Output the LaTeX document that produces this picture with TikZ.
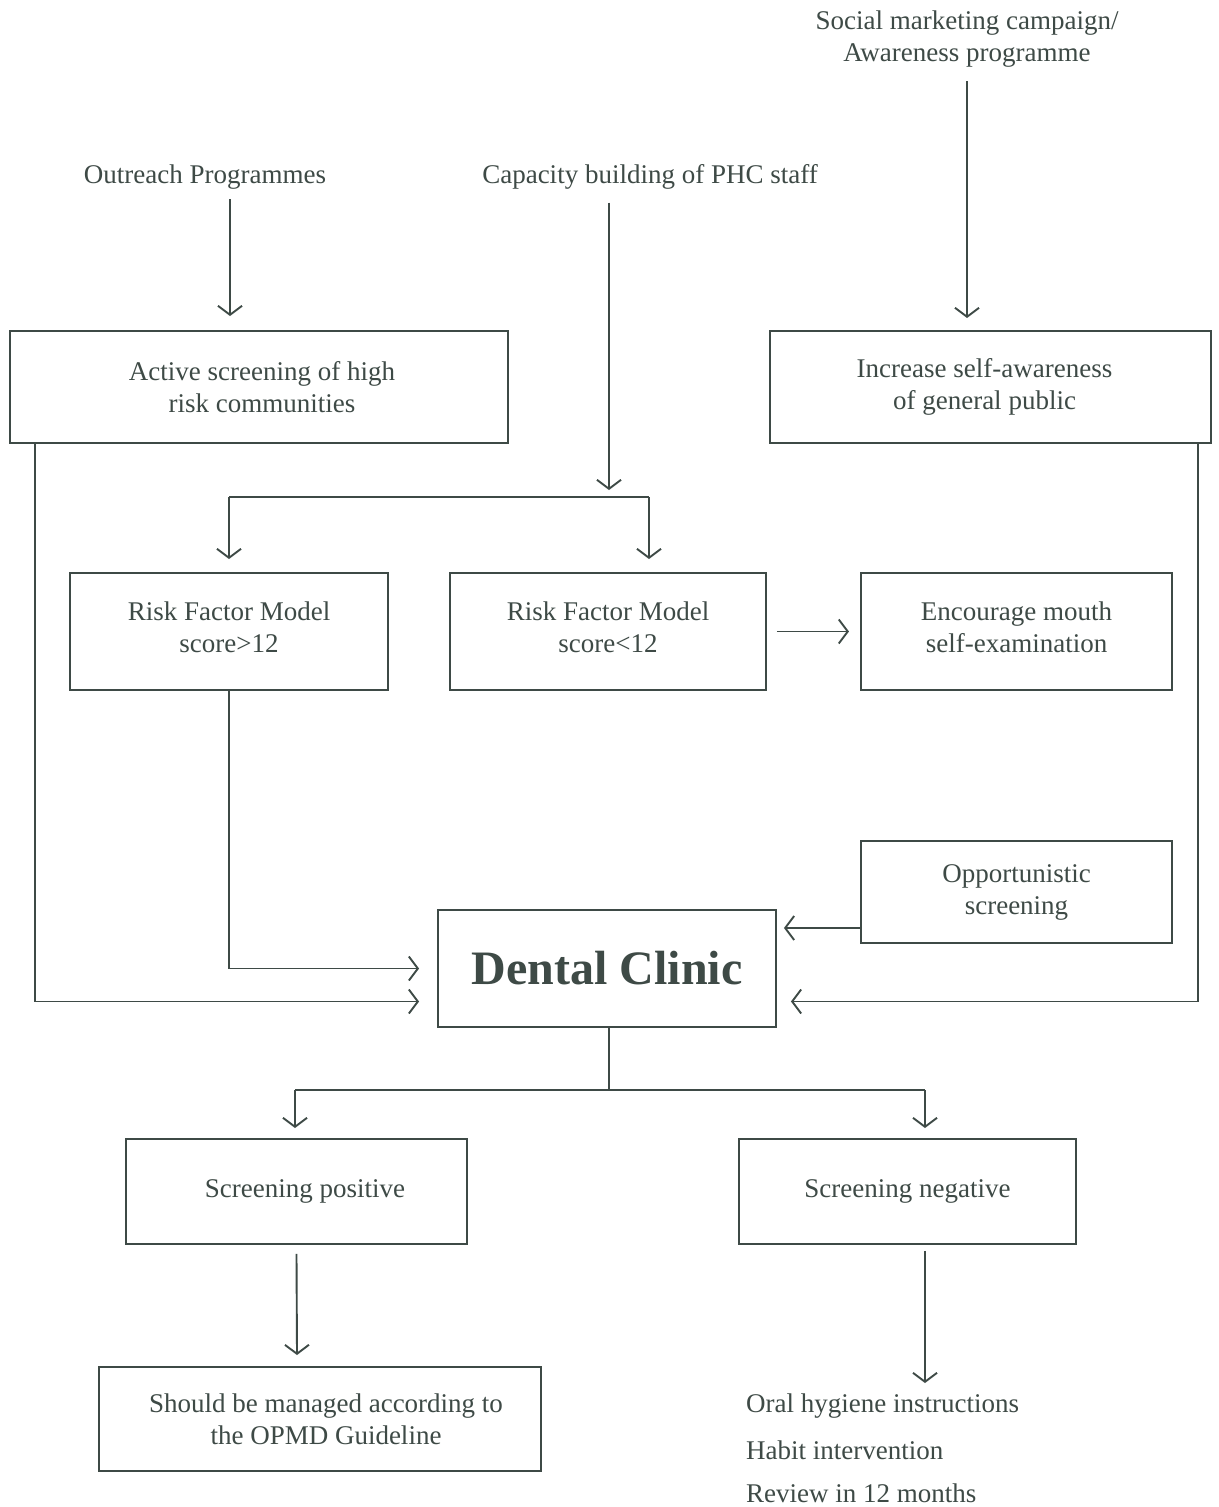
\documentclass[tikz,border=0pt]{standalone}
\usepackage{fontspec}
\setmainfont{Liberation Serif}
\usetikzlibrary{arrows.meta}
\definecolor{ink}{RGB}{62,74,70}
\begin{document}
\begin{tikzpicture}[x=1pt,y=-1pt,
  every node/.style={text=ink, font=\fontsize{27}{32}\selectfont},
  box/.style={draw=ink, line width=1.9pt, align=center, inner sep=0pt},
  lbl/.style={align=center, inner sep=0pt},
  conn/.style={draw=ink, line width=1.9pt},
  arr/.style={conn, -{Straight Barb[length=9pt,width=24pt,line width=1.9pt]}}]
\useasboundingbox[fill=white] (0,0) rectangle (1218,1507);

% top labels
\node[lbl] (social) at (967,39) {Social marketing campaign/\\Awareness programme};
\node[lbl] (outreach) at (205,177) {Outreach Programmes};
\node[lbl] (capacity) at (650,177) {Capacity building of PHC staff};

% boxes
\node[box, minimum width=498pt, minimum height=112pt] (active) at (259,387) {\hspace*{6pt}Active screening of high\\\hspace*{6pt}risk communities};
\node[box, minimum width=441pt, minimum height=112pt] (aware) at (990.5,387) {Increase self-awareness\hspace*{12pt}\\of general public\hspace*{12pt}};
\node[box, minimum width=318pt, minimum height=117pt] (rhigh) at (229,631.5) {Risk Factor Model\\score>12\\[-24pt]};
\node[box, minimum width=316pt, minimum height=117pt] (rlow) at (608,631.5) {Risk Factor Model\\score<12\\[-24pt]};
\node[box, minimum width=311pt, minimum height=117pt] (mouth) at (1016.5,631.5) {Encourage mouth\\self-examination\\[-24pt]};
\node[box, minimum width=311pt, minimum height=102pt] (opp) at (1016.5,892) {Opportunistic\\screening};
\node[box, minimum width=338pt, minimum height=117pt, font=\fontsize{48}{56}\selectfont\bfseries] (clinic) at (607,968.5) {Dental Clinic};
\node[box, minimum width=341pt, minimum height=105pt] (pos) at (296.5,1191.5) {\hspace*{17pt}Screening positive};
\node[box, minimum width=337pt, minimum height=105pt] (neg) at (907.5,1191.5) {Screening negative};
\node[box, minimum width=442pt, minimum height=104pt] (opmd) at (320,1419) {\hspace*{12pt}Should be managed according to\\\hspace*{12pt}the OPMD Guideline};

% list under negative screening
\node[lbl, anchor=west] (oral) at (746,1406) {Oral hygiene instructions};
\node[lbl, anchor=west] (habit) at (746,1450) {Habit intervention};
\node[lbl, anchor=west] (review) at (746,1493) {Review in 12 months};

% helper points
\coordinate (cdrop) at (609,1090);
\coordinate (oppin) at ([xshift=7pt]clinic.east);

% connectors
\draw[arr] (outreach.south -| 230,0) ++(0,10) -- (230,316);
\draw[arr] (social.south -| 967,0) ++(0,14) -- (967,318);
\draw[arr] (capacity.south -| 609,0) ++(0,13) -- (609,490);
\draw[conn] (229,497) -- (649,497);
\draw[arr] (229,497) -- (229,559);
\draw[arr] (649,497) -- (649,559);
\draw[arr] (rlow.east) ++(10,0) -- ++(72,0);

\draw[arr] (active.south -| 35,0) |- ([xshift=-18pt,yshift=-33pt]clinic.west);
\draw[arr] (rhigh.south) |- ([xshift=-18pt]clinic.west);
\draw[arr] (aware.south -| 1198,0) |- ([xshift=14pt,yshift=-33pt]clinic.east);
\draw[arr] ([yshift=-36pt]opp.west) -- ([yshift=-36pt]opp.west -| oppin);

\draw[conn] (clinic.south -| cdrop) -- (cdrop);
\draw[conn] (295,1090) -- (925,1090);
\draw[arr] (295,1090) -- (295,1128);
\draw[arr] (925,1090) -- (925,1128);
\draw[arr] ([yshift=-9pt]pos.south) -- (297,1355);
\draw[arr] ([yshift=-6pt]neg.south -| 925,0) -- (925,1383);
\end{tikzpicture}
\end{document}
